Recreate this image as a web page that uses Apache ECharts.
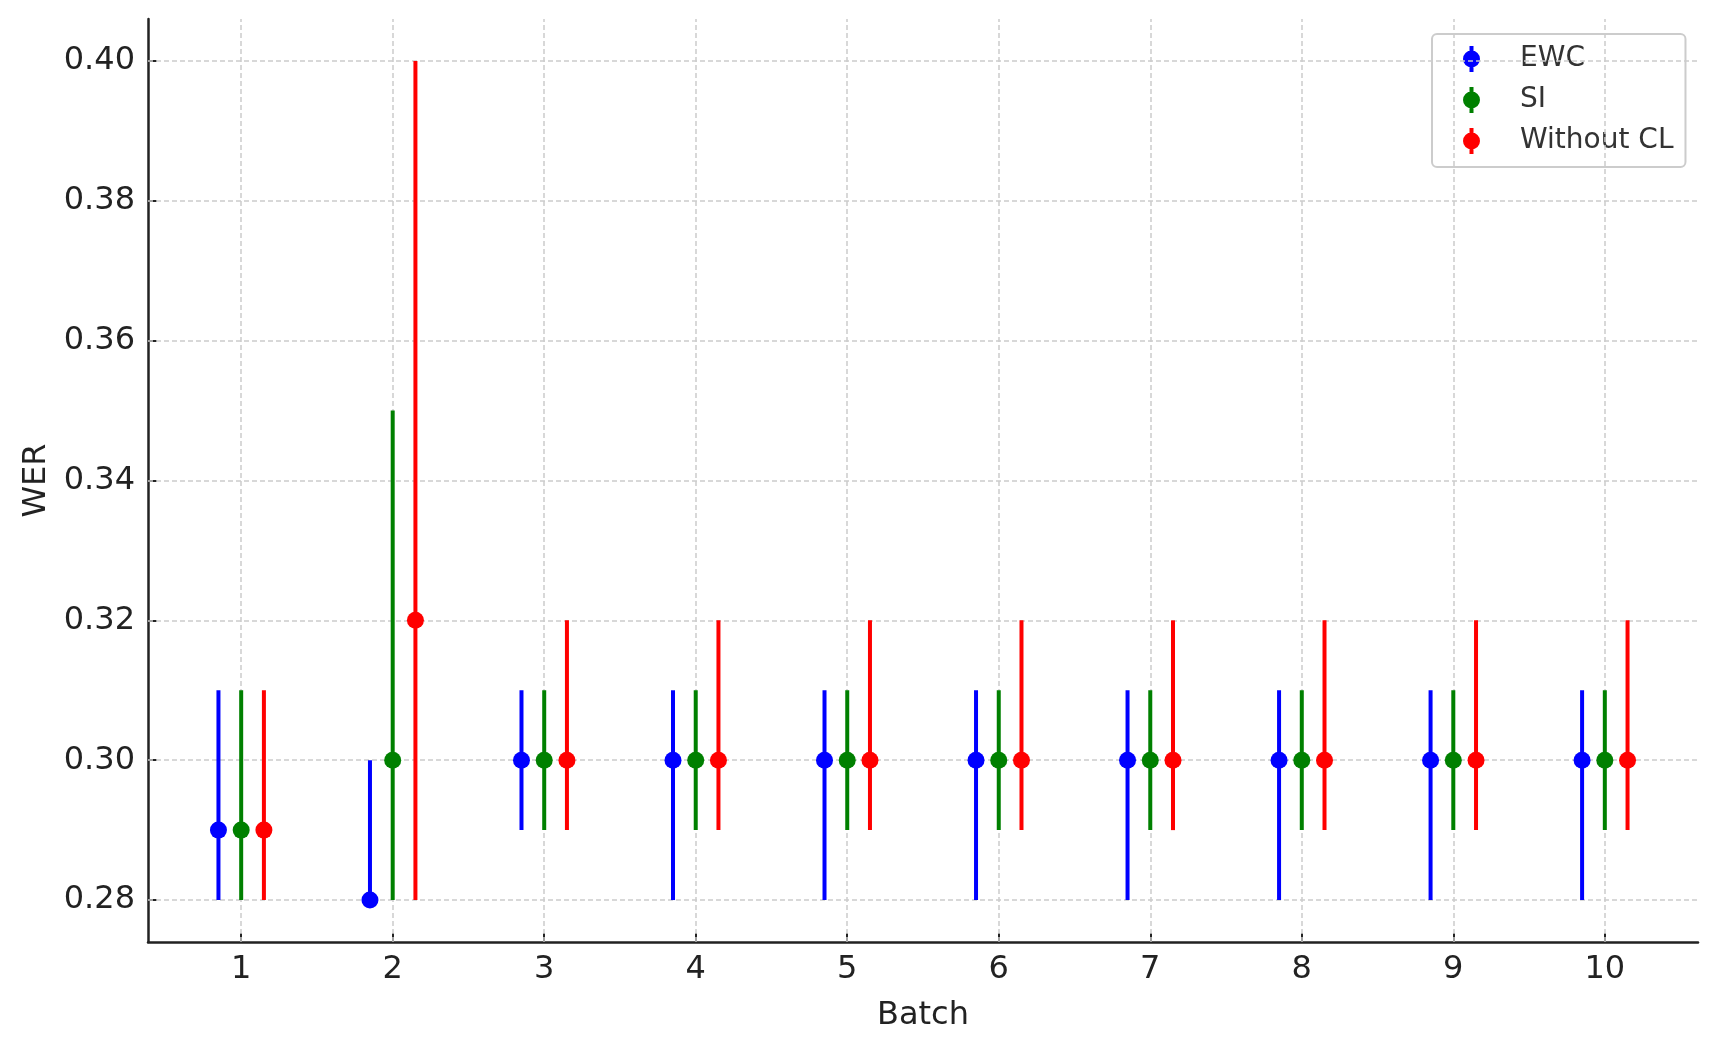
<!DOCTYPE html>
<html>
<head>
<meta charset="utf-8">
<script src="https://cdn.jsdelivr.net/npm/echarts@6/dist/echarts.min.js"></script>
<style>
  html, body { margin: 0; padding: 0; background: #ffffff; }
  #chart { width: 1718px; height: 1050px; }
</style>
</head>
<body>
<div id="chart"></div>
<script>
// ---- data ----
const batches = [1, 2, 3, 4, 5, 6, 7, 8, 9, 10];
const yTicks = [0.28, 0.30, 0.32, 0.34, 0.36, 0.38, 0.40];

const ewcMean = [0.29, 0.28, 0.30, 0.30, 0.30, 0.30, 0.30, 0.30, 0.30, 0.30];
const ewcLow  = [0.28, 0.28, 0.29, 0.28, 0.28, 0.28, 0.28, 0.28, 0.28, 0.28];
const ewcHigh = [0.31, 0.30, 0.31, 0.31, 0.31, 0.31, 0.31, 0.31, 0.31, 0.31];

const siMean = [0.29, 0.30, 0.30, 0.30, 0.30, 0.30, 0.30, 0.30, 0.30, 0.30];
const siLow  = [0.28, 0.28, 0.29, 0.29, 0.29, 0.29, 0.29, 0.29, 0.29, 0.29];
const siHigh = [0.31, 0.35, 0.31, 0.31, 0.31, 0.31, 0.31, 0.31, 0.31, 0.31];

const noclMean = [0.29, 0.32, 0.30, 0.30, 0.30, 0.30, 0.30, 0.30, 0.30, 0.30];
const noclLow  = [0.28, 0.28, 0.29, 0.29, 0.29, 0.29, 0.29, 0.29, 0.29, 0.29];
const noclHigh = [0.31, 0.40, 0.32, 0.32, 0.32, 0.32, 0.32, 0.32, 0.32, 0.32];

const seriesNames = ['EWC', 'SI', 'Without CL'];

// ---- styling ----
const FONT = 'DejaVu Sans';
const colors = ['#0000ff', '#008000', '#ff0000'];
const offsets = [-0.15, 0, 0.15];
const groups = [
  [ewcMean, ewcLow, ewcHigh],
  [siMean, siLow, siHigh],
  [noclMean, noclLow, noclHigh]
];
const legendIcon = 'path://M6,0 L10,0 L10,26 L6,26 Z M-0.5,13 A8.5,8.5 0 1,1 16.5,13 A8.5,8.5 0 1,1 -0.5,13 Z';
const gridLineStyle = { color: '#cccccc', width: 1.5, type: [5, 3] };

function makeSeries(i) {
  const [mean, low, high] = groups[i];
  const color = colors[i];
  return {
    type: 'custom',
    name: seriesNames[i],
    z: 5,
    itemStyle: { color: color },
    encode: { x: 0, y: 1 },
    data: batches.map((b, k) => [b + offsets[i], mean[k], low[k], high[k]]),
    renderItem: function (params, api) {
      const x = api.value(0);
      const pM = api.coord([x, api.value(1)]);
      const pL = api.coord([x, api.value(2)]);
      const pH = api.coord([x, api.value(3)]);
      return {
        type: 'group',
        children: [
          { type: 'line', shape: { x1: pL[0], y1: pL[1], x2: pH[0], y2: pH[1] },
            style: { stroke: color, lineWidth: 4, lineCap: 'butt' } },
          { type: 'circle', shape: { cx: pM[0], cy: pM[1], r: 8.5 },
            style: { fill: color } }
        ]
      };
    }
  };
}

const gridSeries = {
  type: 'line',
  name: '__grid',
  data: [],
  z: 1,
  silent: true,
  markLine: {
    silent: true,
    symbol: 'none',
    animation: false,
    label: { show: false },
    lineStyle: gridLineStyle,
    data: batches.map(b => ({ xAxis: b })).concat(yTicks.map(v => ({ yAxis: v })))
  }
};

const chart = echarts.init(document.getElementById('chart'), null, { renderer: 'canvas' });
chart.setOption({
  animation: false,
  backgroundColor: '#ffffff',
  textStyle: { fontFamily: FONT },
  grid: { left: 148, right: 20, top: 19, bottom: 108, containLabel: false },
  xAxis: {
    type: 'value',
    min: 0.385,
    max: 10.615,
    name: 'Batch',
    nameLocation: 'middle',
    nameGap: 58,
    nameTextStyle: { fontFamily: FONT, fontSize: 32, color: '#222222' },
    axisLine: { show: true, onZero: false, lineStyle: { color: '#222222', width: 2.5 } },
    axisTick: { show: true, inside: true, length: 9, customValues: batches,
                lineStyle: { color: '#222222', width: 2 } },
    axisLabel: { customValues: batches, margin: 12, fontFamily: FONT, fontSize: 32, color: '#222222' },
    splitLine: { show: false }
  },
  yAxis: {
    type: 'value',
    min: 0.274,
    max: 0.406,
    name: 'WER',
    nameLocation: 'middle',
    nameGap: 94,
    nameRotate: 90,
    nameTextStyle: { fontFamily: FONT, fontSize: 32, color: '#222222' },
    axisLine: { show: true, onZero: false, lineStyle: { color: '#222222', width: 2.5 } },
    axisTick: { show: true, inside: true, length: 9, customValues: yTicks,
                lineStyle: { color: '#222222', width: 2 } },
    axisLabel: { customValues: yTicks, margin: 13, fontFamily: FONT, fontSize: 32, color: '#222222',
                 formatter: v => v.toFixed(2) },
    splitLine: { show: false }
  },
  legend: {
    data: seriesNames.map(n => ({ name: n, icon: legendIcon })),
    orient: 'vertical',
    left: 1432,
    top: 34,
    itemWidth: 17,
    itemHeight: 26,
    itemGap: 13,
    padding: [11, 12, 12, 31],
    backgroundColor: '#ffffff',
    borderColor: '#cccccc',
    borderWidth: 2,
    borderRadius: 5,
    textStyle: { fontFamily: FONT, fontSize: 28, color: '#333333', padding: [0, 0, 0, 35] }
  },
  series: [gridSeries, makeSeries(0), makeSeries(1), makeSeries(2)]
});
</script>
</body>
</html>
